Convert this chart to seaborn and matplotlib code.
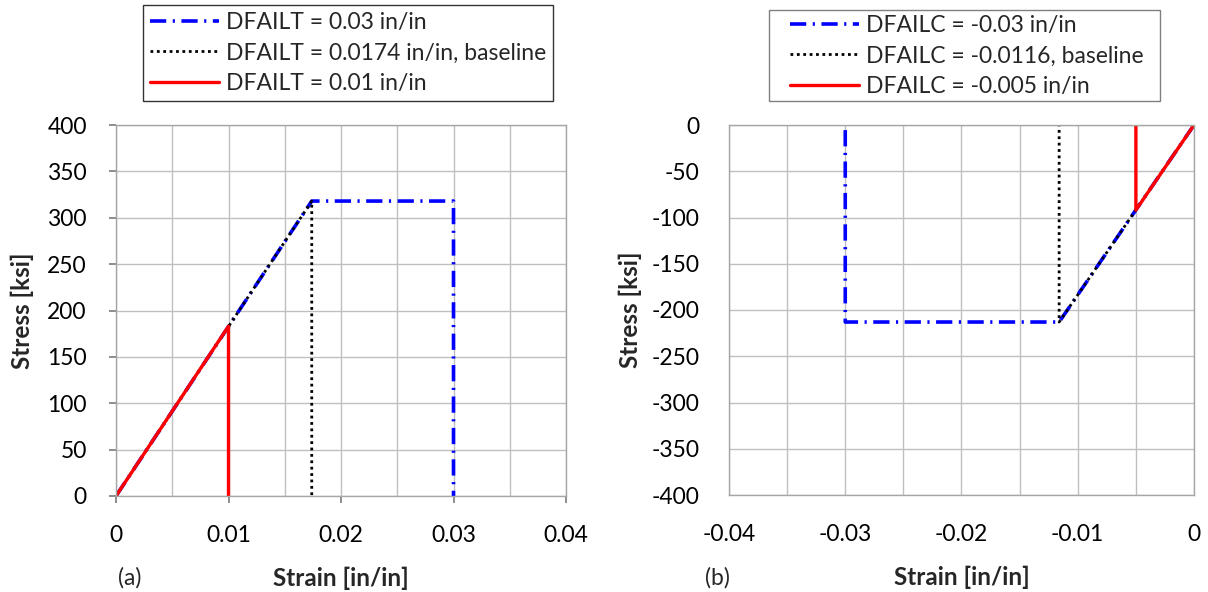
import matplotlib
matplotlib.use("Agg")
import matplotlib.pyplot as plt
import seaborn as sns
import pandas as pd
from matplotlib.ticker import MultipleLocator
from matplotlib.patches import Rectangle

sns.set_theme(style="white")
plt.rcParams['font.family'] = ['Lato', 'DejaVu Sans']
plt.rcParams['axes.unicode_minus'] = False

# Tension (a)
t_labels = ["DFAILT = 0.03 in/in", "DFAILT = 0.0174 in/in, baseline", "DFAILT = 0.01 in/in"]
t_strain_03 = [0.0, 0.0174, 0.03, 0.03]
t_stress_03 = [0.0, 318.0, 318.0, 0.0]
t_strain_base = [0.0, 0.0174, 0.0174]
t_stress_base = [0.0, 318.0, 0.0]
t_strain_01 = [0.0, 0.01, 0.01]
t_stress_01 = [0.0, 183.0, 0.0]

# Compression (b)
c_labels = ["DFAILC = -0.03 in/in", "DFAILC = -0.0116, baseline", "DFAILC = -0.005 in/in"]
c_strain_03 = [0.0, -0.0116, -0.03, -0.03]
c_stress_03 = [0.0, -213.0, -213.0, 0.0]
c_strain_base = [0.0, -0.0116, -0.0116]
c_stress_base = [0.0, -213.0, 0.0]
c_strain_005 = [0.0, -0.005, -0.005]
c_stress_005 = [0.0, -92.0, 0.0]

x_ticks_a = [0, 0.01, 0.02, 0.03, 0.04]
x_ticklabels_a = ["0", "0.01", "0.02", "0.03", "0.04"]
y_ticks_a = list(range(0, 401, 50))
x_ticks_b = [-0.04, -0.03, -0.02, -0.01, 0]
x_ticklabels_b = ["-0.04", "-0.03", "-0.02", "-0.01", "0"]
y_ticks_b = list(range(-400, 1, 50))

styles = [
    dict(color="#0000ff", lw=2.6, dashes=(4.5, 1.8, 0.6, 1.8)),
    dict(color="black", lw=2.0, dashes=(1, 1.3)),
    dict(color="#ff0000", lw=2.4, dashes=None),
]

fig = plt.figure(figsize=(12.08, 5.92), dpi=100)
axA = fig.add_axes([116/1208, 96/592, 450/1208, 371/592])
axB = fig.add_axes([729/1208, 97/592, 465/1208, 370/592])

def draw(ax, series, labels):
    handles = []
    for (xs, ys), lab, st in zip(series, labels, styles):
        df = pd.DataFrame({"strain": xs, "stress": ys})
        sns.lineplot(data=df, x="strain", y="stress", sort=False, estimator=None,
                     ax=ax, color=st["color"], lw=st["lw"], label=lab, legend=False)
        line = ax.get_lines()[-1]
        if st["dashes"] is not None:
            line.set_dashes(st["dashes"])
        handles.append(line)
    return handles

hA = draw(axA, [(t_strain_03, t_stress_03), (t_strain_base, t_stress_base), (t_strain_01, t_stress_01)], t_labels)
hB = draw(axB, [(c_strain_03, c_stress_03), (c_strain_base, c_stress_base), (c_strain_005, c_stress_005)], c_labels)

def style(ax, xlim, ylim, xt, xtl, yt, ticklen, ypad, xpad, ylab_x, xlab_y):
    ax.set_xlim(*xlim)
    ax.set_ylim(*ylim)
    ax.set_xticks(xt)
    ax.set_xticklabels(xtl)
    ax.xaxis.set_minor_locator(MultipleLocator(0.005))
    ax.set_yticks(yt)
    ax.grid(True, which="both", axis="both", color="#bfbfbf", lw=1.0)
    ax.set_axisbelow(True)
    for s in ax.spines.values():
        s.set_color("#a6a6a6")
        s.set_linewidth(1.0)
    ax.tick_params(axis="both", which="major", direction="out", length=ticklen, color="#808080",
                   labelsize=16.5, labelcolor="black", bottom=True, left=True)
    ax.tick_params(axis="y", which="major", pad=ypad)
    ax.tick_params(axis="x", which="major", pad=xpad)
    ax.tick_params(axis="x", which="minor", length=0)
    ax.set_xlabel("Strain [in/in]", fontsize=17.5, fontweight="bold")
    ax.set_ylabel("Stress [ksi]", fontsize=17.5, fontweight="bold")
    ax.yaxis.set_label_coords(ylab_x, 0.5)
    ax.xaxis.set_label_coords(0.5, xlab_y)

style(axA, (0, 0.04), (0, 400), x_ticks_a, x_ticklabels_a, y_ticks_a, 5, 16, 16, -0.182, -0.19)
style(axB, (-0.04, 0), (-400, 0), x_ticks_b, x_ticklabels_b, y_ticks_b, 0, 21, 21, -0.187, -0.19)

legA = fig.legend(handles=hA, labels=t_labels, loc="upper left", bbox_to_anchor=(143/1208, 1 - 5/592),
                  fontsize=16.5, frameon=True, fancybox=False, edgecolor="black", handlelength=3.0,
                  handletextpad=0.3, borderpad=0.3, labelspacing=0.42, borderaxespad=0)
legA.get_frame().set_linewidth(1.0)
legB = fig.legend(handles=hB, labels=c_labels, loc="upper left", bbox_to_anchor=(783/1208, 1 - 8/592),
                  fontsize=16.5, frameon=False, handlelength=3.0,
                  handletextpad=0.3, borderpad=0.3, labelspacing=0.42, borderaxespad=0)
fig.add_artist(Rectangle((769/1208, 1 - 101/592), (1160 - 769)/1208, 91/592,
                         transform=fig.transFigure, fill=False, edgecolor="#808080", lw=1.0))

fig.text(118/1208, 1 - 578/592, "(a)", fontsize=16.5, va="center", ha="left")
fig.text(705/1208, 1 - 578/592, "(b)", fontsize=16.5, va="center", ha="left")

fig.savefig("out.png", dpi=100)
